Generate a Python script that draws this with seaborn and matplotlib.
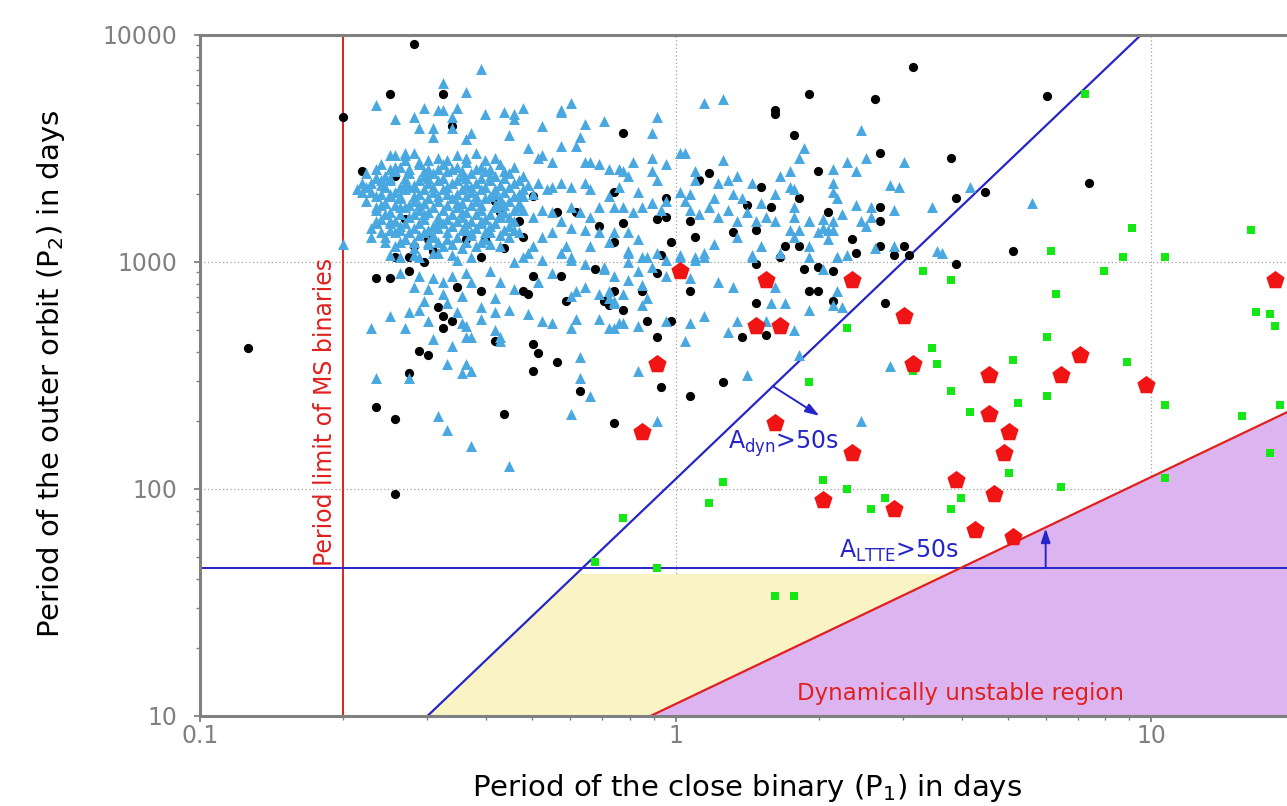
import numpy as np
import pandas as pd
import matplotlib
matplotlib.use("Agg")
import matplotlib.pyplot as plt
from matplotlib.ticker import FixedLocator, FuncFormatter, NullFormatter, LogLocator
import seaborn as sns

# values are (log10 P1, log10 P2), periods in days

# black dots
dots = [
    (-0.55, 3.96), (-0.60, 3.74), (-0.70, 3.64), (-0.66, 3.40), (-0.59, 3.38), (-0.59, 3.02), (-0.56, 3.02),
    (-0.55, 3.07), (-0.53, 3.00), (-0.57, 3.19), (-0.49, 3.74), (-0.11, 3.57), (0.21, 3.67), (0.21, 3.65),
    (0.28, 3.74), (0.25, 3.56), (0.30, 3.40), (0.07, 3.39), (0.05, 3.36), (0.18, 3.33), (0.26, 3.28),
    (0.32, 3.22), (-0.02, 3.28), (-0.02, 3.20), (-0.04, 3.19), (-0.01, 3.09), (-0.03, 3.03), (0.03, 3.18),
    (0.04, 3.11), (0.12, 3.13), (0.17, 3.14), (0.15, 3.25), (0.20, 3.24), (0.23, 3.07), (0.26, 3.07),
    (0.17, 2.99), (0.22, 3.02), (0.30, 2.98), (-0.11, 3.17), (-0.16, 3.16), (-0.13, 3.09), (-0.33, 3.18),
    (-0.40, 3.10), (-0.41, 3.02), (-0.36, 3.06), (-0.32, 3.11), (-0.25, 3.22), (-0.38, 3.27), (-0.47, 3.60),
    (-0.30, 3.29), (-0.13, 3.31), (0.50, 3.86), (0.42, 3.72), (0.78, 3.73), (0.43, 3.48), (0.58, 3.46),
    (0.87, 3.35), (0.65, 3.31), (0.59, 3.28), (0.43, 3.24), (0.43, 3.18), (0.37, 3.10), (0.43, 3.07),
    (0.48, 3.07), (0.46, 3.03), (0.49, 3.03), (0.38, 3.04), (0.71, 3.05), (0.59, 2.99),
    (-0.90, 2.62), (-0.63, 2.93), (-0.60, 2.93), (-0.56, 2.96), (-0.50, 2.80), (-0.49, 2.76), (-0.49, 2.71),
    (-0.47, 2.74), (-0.54, 2.61), (-0.52, 2.59), (-0.56, 2.51), (-0.38, 2.65), (-0.41, 2.87), (-0.30, 2.64),
    (-0.29, 2.60), (-0.30, 2.52), (-0.25, 2.56), (-0.20, 2.43), (-0.30, 2.94), (-0.32, 2.87), (-0.31, 2.86),
    (-0.24, 2.94), (-0.23, 2.83), (-0.17, 2.97), (-0.13, 2.87), (-0.15, 2.83), (-0.14, 2.81), (-0.11, 2.79),
    (-0.63, 2.36), (-0.59, 2.31), (-0.36, 2.33), (-0.13, 2.29), (-0.59, 1.98), (-0.46, 2.89),
    (-0.04, 2.95), (0.27, 2.97), (0.33, 2.96), (-0.07, 2.87), (0.03, 2.87), (0.28, 2.87),
    (0.30, 2.87), (0.33, 2.83), (0.17, 2.82), (0.44, 2.82), (-0.06, 2.74), (-0.01, 2.74), (-0.04, 2.67),
    (0.19, 2.68), (0.14, 2.67), (0.10, 2.47), (-0.03, 2.45), (0.03, 2.41),
    (-0.52, 3.10), (-0.51, 3.05), (-0.37, 3.22), (-0.44, 3.10), (-0.21, 3.22),
]

# blue triangles, upper and sparse part
tri_upper = [
    (-0.63, 3.69), (-0.59, 3.63), (-0.55, 3.64), (-0.53, 3.68), (-0.54, 3.59), (-0.70, 3.08),
    (-0.67, 3.32), (-0.66, 3.35), (-0.64, 3.31), (-0.63, 3.37), (-0.62, 3.36), (-0.59, 3.47), (-0.57, 3.47),
    (-0.63, 3.24), (-0.61, 3.26), (-0.60, 3.30), (-0.63, 3.18), (-0.60, 3.18), (-0.64, 3.11), (-0.61, 3.09),
    (-0.58, 3.14), (-0.59, 3.42), (-0.54, 3.44), (-0.58, 3.24), (-0.55, 3.33), (-0.57, 3.10),
    (-0.41, 3.85), (-0.49, 3.79), (-0.44, 3.75), (-0.50, 3.67), (-0.49, 3.67), (-0.46, 3.68), (-0.47, 3.64),
    (-0.51, 3.59), (-0.51, 3.55), (-0.47, 3.59), (-0.40, 3.65), (-0.36, 3.66), (-0.34, 3.65), (-0.34, 3.63),
    (-0.32, 3.68), (-0.28, 3.60), (-0.24, 3.66), (-0.24, 3.67), (-0.22, 3.70), (-0.19, 3.61), (-0.15, 3.62),
    (-0.04, 3.64), (-0.05, 3.57), (-0.20, 3.55), (-0.21, 3.51), (-0.24, 3.51), (-0.35, 3.56), (-0.43, 3.57),
    (-0.44, 3.54), (0.06, 3.70), (0.10, 3.72), (0.27, 3.50), (0.26, 3.46), (0.10, 3.45), (0.01, 3.48),
    (0.02, 3.48), (-0.02, 3.43), (-0.05, 3.46), (-0.09, 3.44), (-0.57, 3.48),
]

# blue triangles around P2 ~ 1000-3000 d
tri_mid = [
    (-0.19, 3.44), (-0.18, 3.44), (-0.16, 3.43), (-0.28, 3.47), (-0.26, 3.44), (-0.29, 3.46), (-0.31, 3.50),
    (-0.14, 3.41), (-0.12, 3.41), (-0.11, 3.40), (-0.10, 3.38), (-0.05, 3.40), (-0.04, 3.36), (0.04, 3.40),
    (0.04, 3.36), (0.13, 3.38), (0.22, 3.38), (0.24, 3.40), (0.09, 3.35), (0.11, 3.36), (0.16, 3.35),
    (0.21, 3.30), (0.24, 3.33), (0.25, 3.32), (0.01, 3.31), (0.03, 3.30), (0.08, 3.28), (0.12, 3.30),
    (0.14, 3.28), (0.18, 3.26), (-0.02, 3.27), (-0.05, 3.26), (-0.08, 3.31), (-0.12, 3.33), (-0.14, 3.29),
    (-0.18, 3.32), (-0.19, 3.35), (-0.22, 3.33), (-0.24, 3.35), (-0.26, 3.33), (-0.27, 3.32), (-0.29, 3.35),
    (-0.30, 3.30), (-0.32, 3.29), (-0.33, 3.26), (-0.34, 3.23), (-0.22, 3.24), (-0.20, 3.22), (-0.18, 3.20),
    (-0.16, 3.24), (-0.13, 3.24), (-0.11, 3.24), (-0.09, 3.22), (-0.07, 3.24), (-0.05, 3.26), (-0.03, 3.23),
    (0.02, 3.27), (0.03, 3.23), (0.05, 3.21), (0.07, 3.24), (0.09, 3.20), (0.11, 3.23), (0.13, 3.18),
    (0.15, 3.22), (0.17, 3.18), (0.19, 3.20), (0.21, 3.18), (0.25, 3.24), (0.25, 3.20), (0.28, 3.18),
    (0.31, 3.19), (0.32, 3.14), (0.30, 3.13), (0.26, 3.14), (0.24, 3.14), (0.25, 3.11), (0.18, 3.07),
    (0.16, 3.02), (0.13, 3.11), (0.08, 3.08), (0.06, 3.04), (0.04, 3.01), (0.01, 3.02), (-0.02, 3.01),
    (-0.04, 3.04), (-0.06, 3.02), (-0.08, 3.10), (-0.10, 3.05), (-0.10, 3.13), (-0.13, 3.13), (-0.14, 3.09),
    (-0.16, 3.13), (-0.18, 3.07), (-0.22, 3.02), (-0.23, 3.07), (-0.26, 3.13), (-0.28, 3.11), (-0.30, 3.07),
    (-0.31, 3.04), (-0.33, 3.13), (-0.34, 3.14), (-0.37, 3.07), (-0.39, 3.13), (-0.41, 3.18), (-0.30, 3.20),
    (-0.28, 3.23), (-0.26, 3.22), (-0.24, 3.18), (-0.22, 3.15), (-0.19, 3.14),
    (0.39, 3.58), (0.36, 3.44), (0.40, 3.46), (0.48, 3.44), (0.33, 3.41), (0.38, 3.40), (0.33, 3.35),
    (0.33, 3.31), (0.34, 3.28), (0.45, 3.34), (0.47, 3.33), (0.35, 3.21), (0.38, 3.25), (0.41, 3.24),
    (0.46, 3.23), (0.54, 3.24), (0.62, 3.33), (0.75, 3.26), (0.33, 3.18), (0.28, 3.18), (0.39, 3.18),
    (0.40, 3.16), (0.41, 3.20), (0.31, 3.15), (0.33, 3.14), (0.32, 3.10), (0.28, 3.07), (0.34, 3.02),
    (0.36, 3.03), (0.42, 3.06), (0.46, 3.07), (0.55, 3.05),
]

# blue triangles below P2 ~ 1000 d
tri_low = [
    (-0.64, 2.71), (-0.60, 2.76), (-0.57, 2.71), (-0.63, 2.49), (-0.56, 2.49), (-0.56, 2.78), (-0.54, 2.79),
    (-0.52, 2.74), (-0.53, 2.83), (-0.51, 2.66), (-0.47, 2.63), (-0.48, 2.55), (-0.44, 2.55), (-0.43, 2.52),
    (-0.45, 2.51), (-0.50, 2.32), (-0.48, 2.26), (-0.43, 2.19), (-0.35, 2.10), (-0.22, 2.33), (-0.20, 2.58),
    (-0.20, 2.49), (-0.18, 2.41), (-0.45, 2.73), (-0.44, 2.72), (-0.44, 2.67), (-0.43, 2.67), (-0.41, 2.75),
    (-0.38, 2.70), (-0.37, 2.67), (-0.37, 2.65), (-0.38, 2.78), (-0.35, 2.79), (-0.41, 2.80), (-0.31, 2.77),
    (-0.28, 2.74), (-0.26, 2.73), (-0.22, 2.71), (-0.21, 2.75), (-0.16, 2.75), (-0.13, 2.71), (-0.11, 2.73),
    (-0.34, 2.88), (-0.29, 2.91), (-0.26, 2.95), (-0.22, 2.85), (-0.21, 2.87), (-0.19, 2.89), (-0.16, 2.86),
    (-0.13, 2.83), (-0.10, 2.92), (-0.37, 2.91), (-0.38, 2.84), (-0.45, 2.85), (-0.43, 2.91), (-0.44, 2.95),
    (-0.47, 2.94), (-0.49, 2.91), (-0.51, 2.93), (-0.54, 2.94), (-0.55, 2.89), (-0.52, 2.88), (-0.49, 2.86),
    (-0.48, 2.82), (-0.46, 2.78), (-0.39, 2.96), (-0.34, 3.00), (-0.32, 3.02), (-0.28, 3.01), (-0.24, 3.04),
    (-0.22, 3.01), (-0.19, 2.99), (-0.15, 2.98), (-0.10, 3.00), (-0.46, 3.01), (-0.51, 3.04), (-0.55, 3.03),
    (-0.58, 3.02), (-0.58, 2.95),
    (-0.10, 3.04), (-0.07, 3.02), (0.01, 3.03), (0.04, 3.02), (0.06, 3.02), (0.16, 3.03), (0.22, 3.04),
    (0.28, 3.02), (0.34, 3.02), (0.56, 3.04), (-0.15, 2.97), (-0.13, 2.94), (-0.08, 2.96), (-0.05, 2.98),
    (-0.02, 2.94), (0.03, 2.93), (0.09, 2.91), (0.12, 2.89), (0.21, 2.89), (0.31, 2.97), (0.34, 2.87),
    (-0.14, 2.87), (-0.11, 2.86), (-0.07, 2.90), (-0.14, 2.84), (-0.13, 2.82), (-0.07, 2.81), (-0.06, 2.84),
    (0.20, 2.82), (0.23, 2.82), (0.28, 2.79), (0.33, 2.81), (0.35, 2.80), (0.06, 2.76), (0.13, 2.74),
    (0.19, 2.74), (0.25, 2.70), (0.03, 2.73), (-0.02, 2.74), (0.02, 2.65), (0.11, 2.69), (-0.12, 2.73),
    (-0.08, 2.72), (-0.14, 2.71), (0.26, 2.59), (0.15, 2.50), (-0.08, 2.52), (0.45, 2.54), (0.39, 2.30),
    (-0.04, 2.30),
]

# blue triangles, dense core of the cloud
tri_core = [
    (-0.60, 3.47), (-0.55, 3.48), (-0.50, 3.46), (-0.46, 3.47), (-0.42, 3.48), (-0.38, 3.46),
    (-0.62, 3.43), (-0.58, 3.42), (-0.54, 3.43), (-0.52, 3.41), (-0.49, 3.43), (-0.46, 3.42), (-0.44, 3.44),
    (-0.41, 3.42), (-0.37, 3.43), (-0.34, 3.42),
    (-0.65, 3.39), (-0.61, 3.38), (-0.59, 3.40), (-0.56, 3.39), (-0.53, 3.38), (-0.51, 3.39), (-0.48, 3.40),
    (-0.45, 3.38), (-0.43, 3.39), (-0.40, 3.40), (-0.38, 3.38), (-0.35, 3.39), (-0.32, 3.38),
    (-0.64, 3.35), (-0.62, 3.34), (-0.60, 3.36), (-0.57, 3.35), (-0.55, 3.34), (-0.52, 3.35), (-0.50, 3.36),
    (-0.47, 3.35), (-0.44, 3.34), (-0.42, 3.35), (-0.39, 3.36), (-0.37, 3.34), (-0.34, 3.35), (-0.31, 3.34),
    (-0.66, 3.31), (-0.62, 3.30), (-0.59, 3.31), (-0.57, 3.32), (-0.54, 3.30), (-0.51, 3.31), (-0.49, 3.32),
    (-0.46, 3.30), (-0.43, 3.31), (-0.41, 3.32), (-0.38, 3.30), (-0.36, 3.31), (-0.33, 3.30),
    (-0.65, 3.27), (-0.61, 3.26), (-0.58, 3.28), (-0.55, 3.27), (-0.53, 3.26), (-0.50, 3.27), (-0.47, 3.28),
    (-0.45, 3.26), (-0.42, 3.27), (-0.40, 3.28), (-0.37, 3.26), (-0.35, 3.27),
    (-0.63, 3.23), (-0.60, 3.22), (-0.57, 3.24), (-0.54, 3.23), (-0.52, 3.22), (-0.49, 3.23), (-0.46, 3.24),
    (-0.44, 3.22), (-0.41, 3.23), (-0.38, 3.24), (-0.36, 3.22), (-0.32, 3.23),
    (-0.62, 3.19), (-0.59, 3.18), (-0.56, 3.20), (-0.53, 3.19), (-0.50, 3.18), (-0.48, 3.19), (-0.45, 3.20),
    (-0.43, 3.18), (-0.40, 3.19), (-0.37, 3.20), (-0.34, 3.18),
    (-0.64, 3.15), (-0.60, 3.14), (-0.58, 3.16), (-0.55, 3.15), (-0.52, 3.14), (-0.50, 3.15), (-0.47, 3.16),
    (-0.44, 3.14), (-0.42, 3.15), (-0.39, 3.16), (-0.36, 3.14),
    (-0.61, 3.11), (-0.57, 3.10), (-0.54, 3.12), (-0.51, 3.11), (-0.48, 3.10), (-0.46, 3.11), (-0.43, 3.12),
    (-0.40, 3.10), (-0.35, 3.11),
    (-0.59, 3.07), (-0.55, 3.06), (-0.52, 3.08), (-0.49, 3.07), (-0.45, 3.06), (-0.42, 3.07), (-0.39, 3.08),
    (-0.60, 3.03), (-0.54, 3.02), (-0.50, 3.04), (-0.47, 3.03), (-0.43, 3.02),
]

# more of the core, filling between the rows above
tri_core_fill = [
    (-0.57, 3.45), (-0.52, 3.45), (-0.48, 3.45), (-0.44, 3.46), (-0.40, 3.45),
    (-0.63, 3.41), (-0.60, 3.41), (-0.56, 3.41), (-0.53, 3.40), (-0.50, 3.41), (-0.47, 3.41), (-0.45, 3.40),
    (-0.42, 3.41), (-0.39, 3.41), (-0.36, 3.40),
    (-0.63, 3.37), (-0.60, 3.37), (-0.57, 3.37), (-0.54, 3.36), (-0.52, 3.37), (-0.49, 3.37), (-0.46, 3.36),
    (-0.44, 3.37), (-0.41, 3.37), (-0.39, 3.38), (-0.36, 3.37), (-0.33, 3.36),
    (-0.65, 3.33), (-0.61, 3.33), (-0.58, 3.33), (-0.56, 3.33), (-0.53, 3.32), (-0.51, 3.33), (-0.48, 3.33),
    (-0.45, 3.32), (-0.43, 3.33), (-0.40, 3.33), (-0.38, 3.32), (-0.35, 3.33), (-0.32, 3.32),
    (-0.63, 3.29), (-0.60, 3.29), (-0.58, 3.29), (-0.55, 3.29), (-0.52, 3.28), (-0.50, 3.29), (-0.48, 3.30),
    (-0.44, 3.29), (-0.42, 3.29), (-0.39, 3.29), (-0.37, 3.28), (-0.34, 3.29),
    (-0.62, 3.25), (-0.59, 3.25), (-0.56, 3.25), (-0.54, 3.25), (-0.51, 3.24), (-0.48, 3.25), (-0.46, 3.26),
    (-0.43, 3.25), (-0.41, 3.25), (-0.38, 3.25), (-0.36, 3.25), (-0.33, 3.24),
    (-0.61, 3.21), (-0.58, 3.21), (-0.55, 3.21), (-0.53, 3.21), (-0.50, 3.20), (-0.47, 3.21), (-0.45, 3.22),
    (-0.42, 3.21), (-0.39, 3.21), (-0.37, 3.21), (-0.35, 3.20),
    (-0.63, 3.17), (-0.60, 3.17), (-0.57, 3.17), (-0.54, 3.17), (-0.51, 3.16), (-0.49, 3.17), (-0.46, 3.18),
    (-0.44, 3.17), (-0.41, 3.17), (-0.38, 3.17), (-0.35, 3.16),
    (-0.62, 3.13), (-0.59, 3.13), (-0.56, 3.13), (-0.53, 3.13), (-0.51, 3.12), (-0.48, 3.13), (-0.45, 3.14),
    (-0.43, 3.13), (-0.40, 3.13), (-0.37, 3.12),
    (-0.58, 3.09), (-0.55, 3.09), (-0.52, 3.09), (-0.50, 3.09), (-0.47, 3.08), (-0.44, 3.09), (-0.41, 3.09),
]

# green squares
squares = [
    (0.79, 3.05), (0.94, 3.02), (1.03, 3.02), (0.52, 2.96), (0.58, 2.92), (0.90, 2.96), (0.80, 2.86),
    (0.36, 2.71), (0.78, 2.67), (1.22, 2.78), (1.25, 2.77), (1.26, 2.72), (0.54, 2.62), (0.71, 2.57),
    (0.55, 2.55), (0.50, 2.52), (0.95, 2.56), (0.28, 2.47), (0.58, 2.43), (0.72, 2.38), (0.78, 2.41),
    (1.03, 2.37), (1.27, 2.37), (1.19, 2.32), (0.62, 2.34), (1.25, 2.16), (0.70, 2.07), (1.03, 2.05),
    (0.10, 2.03), (0.31, 2.04), (0.36, 2.00), (0.81, 2.01), (0.60, 1.96), (0.44, 1.96), (0.07, 1.94),
    (0.41, 1.91), (0.58, 1.91), (-0.11, 1.87), (0.86, 3.74), (0.96, 3.15), (1.21, 3.14), (-0.17, 1.68),
    (-0.04, 1.65), (0.21, 1.53), (0.25, 1.53),
]

# red pentagons
pentagons = [
    (0.01, 2.96), (0.19, 2.92), (0.37, 2.92), (0.48, 2.76), (0.17, 2.72), (0.22, 2.72), (-0.04, 2.55),
    (0.50, 2.55), (0.66, 2.50), (0.85, 2.59), (0.81, 2.50), (0.99, 2.46), (1.26, 2.92), (0.21, 2.29),
    (0.66, 2.33), (0.70, 2.25), (-0.07, 2.25), (0.37, 2.16), (0.69, 2.16), (0.59, 2.04), (0.67, 1.98),
    (0.31, 1.95), (0.46, 1.91), (0.63, 1.82), (0.71, 1.79),
]

# limits drawn on the diagram (days)
ms_limit = 0.2           # shortest MS binary period
ltte_limit = 45.0        # A_LTTE > 50 s above this P2
dyn_p1_at_10 = 0.3008    # A_dyn > 50 s line: P2 = 10 (P1 / dyn_p1_at_10)^2
unstable_ratio = 11.29   # unstable when P2 < ratio * P1
yellow_top = 42.2

blue = "#2626c8"
red = "#e0201e"

sns.set_theme(style="white")
plt.rcParams["font.family"] = ["DejaVu Sans"]
plt.rcParams["mathtext.fontset"] = "dejavusans"


def frame(pairs):
    arr = np.array(pairs)
    return pd.DataFrame({"P1": 10 ** arr[:, 0], "P2": 10 ** arr[:, 1]})


fig = plt.figure(figsize=(12.87, 8.06), dpi=100)
ax = fig.add_axes([0.1554, 0.1117, 0.8446, 0.8449])
ax.set_xscale("log")
ax.set_yscale("log")

# shaded regions
yx = [dyn_p1_at_10, dyn_p1_at_10 * np.sqrt(yellow_top / 10), yellow_top / unstable_ratio, 10 / unstable_ratio]
yy = [10, yellow_top, yellow_top, 10]
ax.fill(yx, yy, color="#faf3c4", lw=0, zorder=1)
ax.fill([10 / unstable_ratio, 40, 40], [10, 40 * unstable_ratio, 10], color="#dcb4ef", lw=0, zorder=1)

# limit lines
ax.axvline(ms_limit, color=red, lw=1.4, zorder=2)
ax.axhline(ltte_limit, color=blue, lw=1.4, zorder=2)
p1 = np.array([dyn_p1_at_10, 12.0])
ax.plot(p1, 10 * (p1 / dyn_p1_at_10) ** 2, color=blue, lw=1.6, zorder=2)
p1 = np.array([10 / unstable_ratio, 40.0])
ax.plot(p1, p1 * unstable_ratio, color=red, lw=1.6, zorder=2)

sns.scatterplot(data=frame(dots), x="P1", y="P2", color="black", marker="o", s=44,
                linewidth=0, ax=ax, zorder=3, legend=False)
sns.scatterplot(data=frame(tri_upper + tri_mid + tri_low + tri_core + tri_core_fill), x="P1", y="P2",
                color="#4aa8e0", marker="^", s=62, linewidth=0, ax=ax, zorder=4, legend=False)
sns.scatterplot(data=frame(squares), x="P1", y="P2", color="#14e814", marker="s", s=34,
                linewidth=0, ax=ax, zorder=5, legend=False)
sns.scatterplot(data=frame(pentagons), x="P1", y="P2", color="#f01414", marker="p", s=190,
                linewidth=0, ax=ax, zorder=6, legend=False)

ax.set_xlim(0.1, 19.3)
ax.set_ylim(10, 10000)

# annotations
ax.text(0.194, 46, "Period limit of MS binaries", rotation=90, ha="right", va="bottom",
        color=red, fontsize=17, zorder=7)
ax.text(1.286, 150, r"A$_{\mathrm{dyn}}$>50s", color=blue, fontsize=17, ha="left", va="baseline", zorder=7)
ax.text(2.21, 50, r"A$_{\mathrm{LTTE}}$>50s", color=blue, fontsize=17, ha="left", va="baseline", zorder=7)
ax.text(1.80, 11.75, "Dynamically unstable region", color=red, fontsize=16.5, ha="left",
        va="baseline", zorder=7)
arrow = dict(arrowstyle="-|>,head_length=0.6,head_width=0.2", color=blue, lw=1.4,
             shrinkA=0, shrinkB=0, mutation_scale=14)
ax.annotate("", xy=(2.006, 210), xytext=(1.60, 284), arrowprops=arrow, zorder=7)
ax.annotate("", xy=(6.0, 67), xytext=(6.0, ltte_limit), arrowprops=arrow, zorder=7)

# axes styling
ax.xaxis.set_major_locator(FixedLocator([0.1, 1, 10]))
ax.yaxis.set_major_locator(FixedLocator([10, 100, 1000, 10000]))
fmt = FuncFormatter(lambda v, pos: f"{v:g}")
ax.xaxis.set_major_formatter(fmt)
ax.yaxis.set_major_formatter(fmt)
for axis in (ax.xaxis, ax.yaxis):
    axis.set_minor_locator(LogLocator(base=10, subs=np.arange(2, 10)))
    axis.set_minor_formatter(NullFormatter())

ax.tick_params(which="both", direction="out", color="#808080", labelcolor="#808080",
               labelsize=17, left=True, bottom=True, top=False, right=False)
ax.tick_params(which="major", length=4.5, width=1.3)
ax.tick_params(which="minor", length=3, width=1.0)
ax.tick_params(axis="y", which="both", pad=12)
ax.tick_params(axis="x", which="both", pad=1.5)

for side in ("left", "bottom", "top"):
    ax.spines[side].set_color("#808080")
    ax.spines[side].set_linewidth(2.2)
ax.spines["right"].set_visible(False)

ax.set_axisbelow(True)
ax.grid(True, which="major", linestyle=(0, (1, 2)), color="#a0a0a0", linewidth=0.9)

ax.set_xlabel(r"Period of the close binary (P$_1$) in days", fontsize=21, color="black")
ax.xaxis.set_label_coords(0.503, -0.082)
ax.set_ylabel(r"Period of the outer orbit (P$_2$) in days", fontsize=21, color="black")
ax.yaxis.set_label_coords(-0.122, 0.502)

fig.savefig("out.png", dpi=100)
